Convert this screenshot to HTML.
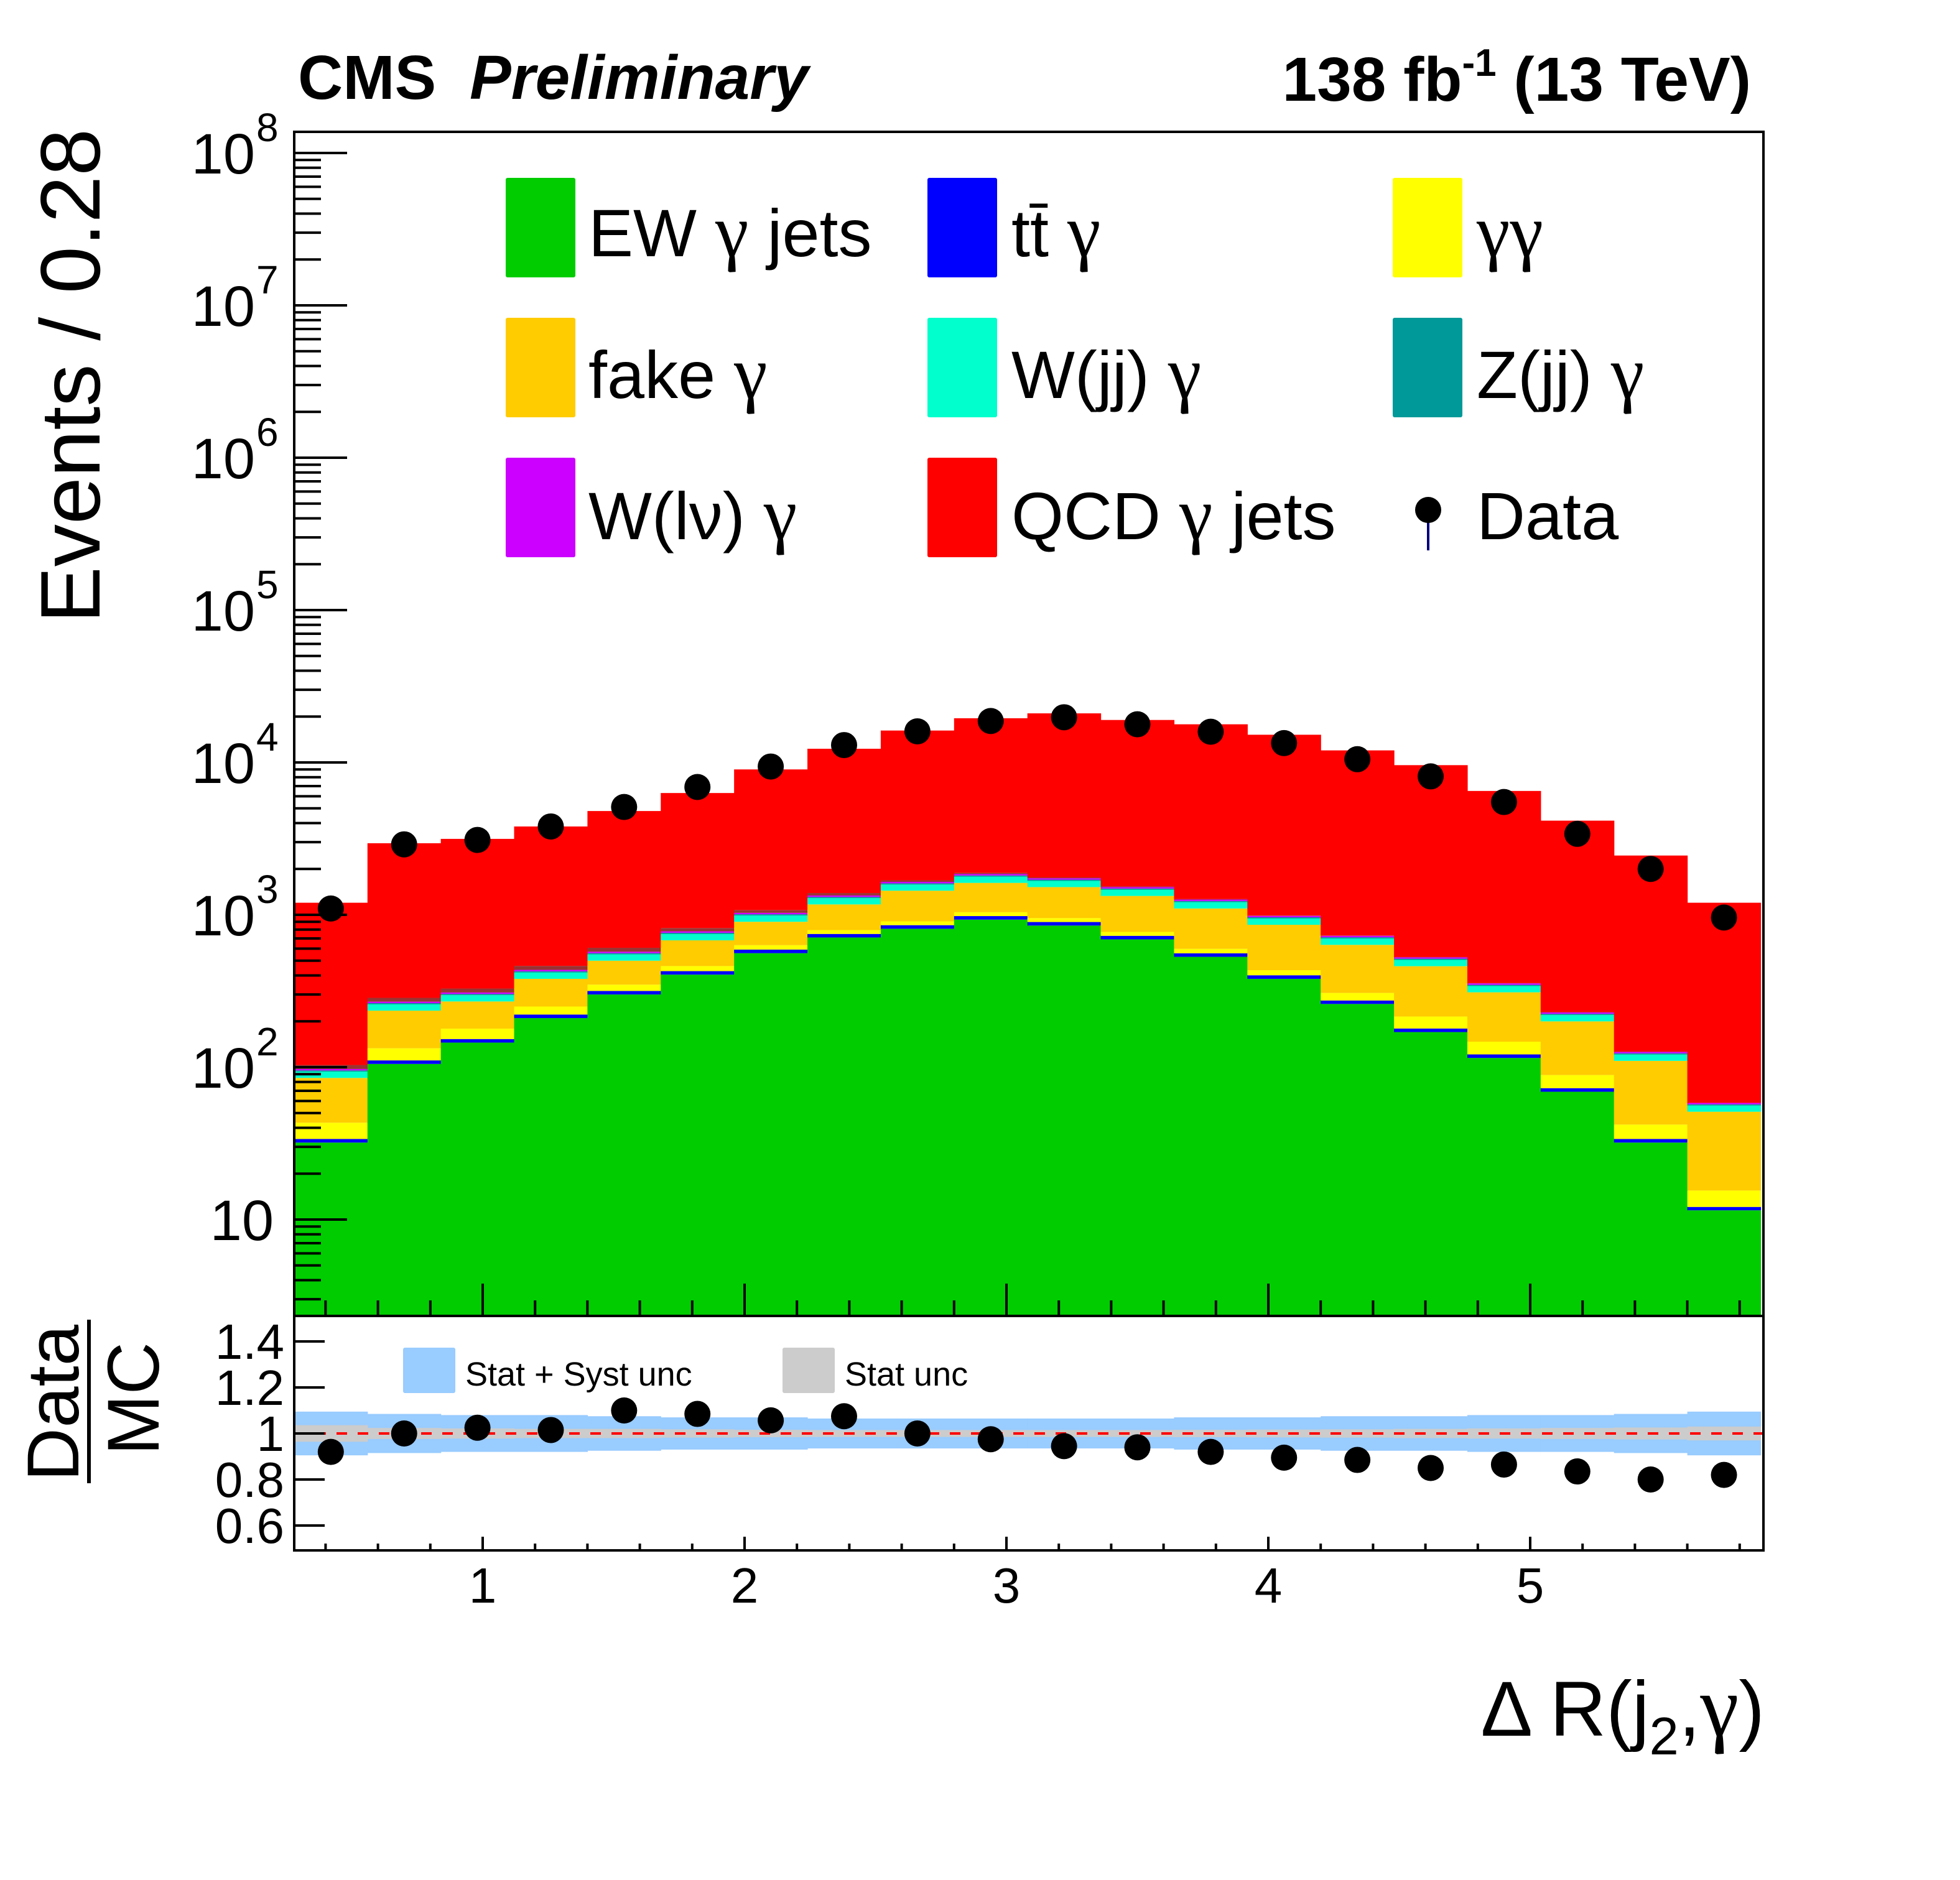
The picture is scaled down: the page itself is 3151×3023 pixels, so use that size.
<!DOCTYPE html>
<html><head><meta charset="utf-8"><style>
html,body{margin:0;padding:0;background:#fff;}
svg{display:block;font-family:"Liberation Sans",sans-serif;}
.g{font-family:"Liberation Serif",serif;font-size:1.12em;}
</style></head><body>
<svg id="chart" xmlns="http://www.w3.org/2000/svg" width="3151" height="3023" viewBox="0 0 3151 3023">
<defs>
<clipPath id="upclip"><rect x="473" y="212" width="2362" height="1904"/></clipPath>
<clipPath id="loclip"><rect x="473" y="2116" width="2362" height="377"/></clipPath>
</defs>
<rect width="3151" height="3023" fill="#fff"/>
<g id="upper" clip-path="url(#upclip)"></g>
<g id="lower" clip-path="url(#loclip)"></g>
<g id="axes"></g>
<text x="479" y="159" font-size="100" font-weight="bold">CMS</text>
<text x="755" y="159" font-size="100" font-weight="bold" font-style="italic">Preliminary</text>
<text x="2815" y="162" font-size="100" font-weight="bold" text-anchor="end">138 fb<tspan dy="-40" font-size="62">-1</tspan><tspan dy="40"> (13 TeV)</tspan></text>
<text transform="translate(160,1002) rotate(-90)" font-size="136" textLength="795" lengthAdjust="spacingAndGlyphs">Events / 0.28</text>
<text transform="translate(126,2382) rotate(-90)" font-size="118" textLength="252" lengthAdjust="spacingAndGlyphs">Data</text>
<line x1="143" y1="2122" x2="143" y2="2385" stroke="#000" stroke-width="6"/>
<text transform="translate(255,2340) rotate(-90)" font-size="118" textLength="182" lengthAdjust="spacingAndGlyphs">MC</text>
<text x="2837" y="2791" font-size="125" text-anchor="end">Δ R(j<tspan dy="30" font-size="85">2</tspan><tspan dy="-30">,</tspan><tspan class="g">γ</tspan>)</text>
<g id="legend"></g>
</svg>
<script>
// ---- data ----
const binEdgesStart = 0.28;
const binWidth = 0.28;
const ewGammaJets = [32,105,145,210,300,405,560,710,810,930,850,690,530,380,260,170,115,69,32,11.5];
const ttGamma = [1.8,5.8,8,11.6,16.5,22,31,39,45,51,47,38,29,21,14,9.4,6.3,3.8,1.8,0.6];
const diphoton = [9.4,22.2,26,28.4,31.5,34,41,45,51,59,54,44,39,32,33,35.6,25.7,16,8.2,3.4];
const fakeGamma = [41.8,102,91,130,152,219,268,376,534,580,569,558,502,427,328,245,163,111,68,35.5];
const wjjGamma = [8.5,23.5,27,38,50,68,90,117,140,160,150,130,110,86,64,46,31,20,11,5];
const zjjGamma = [1.7,4.7,5.4,7.6,10,14,18,23,29,32,30,27,22,17,13,9,6,4,2.2,1];
const wlnuGamma = [2.1,5.9,6.8,9.5,12.5,17,22,29,36,40,38,33,27,21,16,11,8,5,2.8,1.3];
const otherBkg = [6,16,19,27,35,40,45,50,40,30,20,15,10,5,3,2,1,1,0.5,0];
const qcdGammaJets = [1097,2665,2822,3338,4192,5481,7925,10911,14515,17618,19242,17465,16531,14211,11269,9072,6144,3920,2323,1142];
const dataCounts = [1100,2900,3100,3800,5100,6900,9400,13000,16000,18700,19800,17800,15900,13400,10500,8100,5500,3400,2000,960];
const ratioValues = [0.92,1.0,1.025,1.015,1.10,1.085,1.057,1.075,1.0,0.975,0.945,0.94,0.92,0.895,0.885,0.85,0.865,0.835,0.80,0.82];
const systUnc = [0.095,0.085,0.08,0.08,0.075,0.07,0.07,0.065,0.065,0.065,0.065,0.065,0.07,0.07,0.075,0.075,0.08,0.08,0.085,0.095];
const statUnc = [0.036,0.024,0.022,0.02,0.02,0.018,0.016,0.015,0.015,0.015,0.015,0.015,0.016,0.017,0.018,0.02,0.022,0.024,0.026,0.03];
const xTickLabels = ["1","2","3","4","5"];
const ratioTickLabels = ["0.6","0.8","1","1.2","1.4"];

// ---- axes ----
const X0=473,X1=2835,YT=212,YB=2116,RB=2493;
function xpx(v){return 776+(v-1)*421;}
function ypx(v){ if(v<=0) return YB+10; return 246+(8-Math.log10(v))*245;}
function rpx(v){return 2305-(v-1)*370;}
const NS="http://www.w3.org/2000/svg";
function mk(tag,attrs,parent){const e=document.createElementNS(NS,tag);for(const k in attrs)e.setAttribute(k,attrs[k]);parent.appendChild(e);return e;}
const upper=document.getElementById('upper'),lower=document.getElementById('lower'),axes=document.getElementById('axes'),legend=document.getElementById('legend');

const layers=[
 {arr:ewGammaJets,c:"#00cc00",n:"ew-gamma-jets"},
 {arr:ttGamma,c:"#0000ff",n:"tt-gamma"},
 {arr:diphoton,c:"#ffff00",n:"diphoton"},
 {arr:fakeGamma,c:"#ffcc00",n:"fake-gamma"},
 {arr:wjjGamma,c:"#00ffcc",n:"wjj-gamma"},
 {arr:zjjGamma,c:"#009999",n:"zjj-gamma"},
 {arr:wlnuGamma,c:"#cc00ff",n:"wlnu-gamma"},
 {arr:otherBkg,c:"#993333",n:"other-bkg"},
 {arr:qcdGammaJets,c:"#ff0000",n:"qcd-gamma-jets"}
];
const nb=ewGammaJets.length;
for(let i=0;i<nb;i++){
  let cum=0;
  const xa=xpx(binEdgesStart+i*binWidth), xb=xpx(binEdgesStart+(i+1)*binWidth);
  layers.forEach(L=>{
    const lo=cum; cum+=L.arr[i];
    const y1=ypx(cum), y0=ypx(lo);
    const r=mk('rect',{x:xa,y:y1,width:xb-xa+0.6,height:Math.max(0,y0-y1),fill:L.c},upper);
    
    
  });
}
for(let i=0;i<nb;i++){
  const cx=xpx(binEdgesStart+(i+0.5)*binWidth);
  const c=mk('circle',{cx:cx,cy:ypx(dataCounts[i]),r:21,fill:"#000"},upper);
  
  
}
for(let i=0;i<nb;i++){
  const xa=xpx(binEdgesStart+i*binWidth), xb=xpx(binEdgesStart+(i+1)*binWidth);
  const b=mk('rect',{x:xa,y:rpx(1+systUnc[i]),width:xb-xa+0.6,height:rpx(1-systUnc[i])-rpx(1+systUnc[i]),fill:"#99ccff"},lower);
  
  
}
for(let i=0;i<nb;i++){
  const xa=xpx(binEdgesStart+i*binWidth), xb=xpx(binEdgesStart+(i+1)*binWidth);
  const b=mk('rect',{x:xa,y:rpx(1+statUnc[i]),width:xb-xa+0.6,height:rpx(1-statUnc[i])-rpx(1+statUnc[i]),fill:"#cccccc"},lower);
  
  
}
const ul=mk('line',{x1:X0,x2:X1,y1:rpx(1),y2:rpx(1),stroke:"#ff0000","stroke-width":4,"stroke-dasharray":"17 17"},lower);


for(let i=0;i<nb;i++){
  const cx=xpx(binEdgesStart+(i+0.5)*binWidth);
  const c=mk('circle',{cx:cx,cy:rpx(ratioValues[i]),r:21,fill:"#000"},lower);
  
  
}
const f1=mk('rect',{x:X0,y:YT,width:X1-X0,height:YB-YT,fill:"none",stroke:"#000","stroke-width":4},axes);


const f2=mk('rect',{x:X0,y:YB,width:X1-X0,height:RB-YB,fill:"none",stroke:"#000","stroke-width":4},axes);


for(let d=0;d<=8;d++){
  for(let m=1;m<=9;m++){
    const v=m*Math.pow(10,d); const y=ypx(v);
    if(y<YT||y>YB) continue;
    mk('line',{x1:X0,x2:X0+(m==1?85:43),y1:y,y2:y,stroke:"#000","stroke-width":4},axes);
  }
}
for(let d=1;d<=8;d++){
  const y=ypx(Math.pow(10,d));
  let t;
  if(d==1){ t=mk('text',{x:440,y:y+33,"font-size":92,"text-anchor":"end"},axes); t.textContent="10"; }
  else { t=mk('text',{x:410,y:y+33,"font-size":92,"text-anchor":"end"},axes); t.textContent="10";
    const s=mk('tspan',{x:412,dy:-52,"font-size":64,"text-anchor":"start"},t); s.textContent=String(d); }
  
  
}
for(let k=2;k<=29;k++){
  const v=k*0.2; const x=xpx(v); if(x<X0||x>X1) continue;
  const major=(k%5==0);
  mk('line',{x1:x,x2:x,y1:YB,y2:YB-(major?52:25),stroke:"#000","stroke-width":4},axes);
  mk('line',{x1:x,x2:x,y1:RB,y2:RB-(major?22:11),stroke:"#000","stroke-width":4},axes);
}
xTickLabels.forEach((lab,i)=>{
  const t=mk('text',{x:xpx(i+1),y:2577,"font-size":80,"text-anchor":"middle"},axes);
  t.textContent=lab;
  
  
});
ratioTickLabels.forEach(lab=>{
  const v=parseFloat(lab), y=rpx(v);
  mk('line',{x1:X0,x2:X0+49,y1:y,y2:y,stroke:"#000","stroke-width":4},axes);
  const t=mk('text',{x:457,y:y+28,"font-size":80,"text-anchor":"end"},axes);
  t.textContent=lab;
  
  
});
const legItems=[
 {c:"#00cc00",a:"EW ",g:"γ",b:" jets",col:0,row:0,n:"ew-gamma-jets"},
 {c:"#0000ff",a:"tt̄ ",g:"γ",b:"",col:1,row:0,n:"tt-gamma"},
 {c:"#ffff00",a:"",g:"γγ",b:"",col:2,row:0,n:"diphoton"},
 {c:"#ffcc00",a:"fake ",g:"γ",b:"",col:0,row:1,n:"fake-gamma"},
 {c:"#00ffcc",a:"W(jj) ",g:"γ",b:"",col:1,row:1,n:"wjj-gamma"},
 {c:"#009999",a:"Z(jj) ",g:"γ",b:"",col:2,row:1,n:"zjj-gamma"},
 {c:"#cc00ff",a:"W(lν) ",g:"γ",b:"",col:0,row:2,n:"wlnu-gamma"},
 {c:"#ff0000",a:"QCD ",g:"γ",b:" jets",col:1,row:2,n:"qcd-gamma-jets"}
];
const colBox=[813,1491,2239], colText=[946,1626,2374], rowTop=[286,511,736], rowBase=[412,640,867];
legItems.forEach(it=>{
  const r=mk('rect',{x:colBox[it.col],y:rowTop[it.row],width:112,height:160,fill:it.c,rx:3},legend);
  
  
  const t=mk('text',{x:colText[it.col],y:rowBase[it.row],"font-size":108},legend);
  if(it.a){const s=mk('tspan',{},t); s.textContent=it.a;}
  const g=mk('tspan',{"class":"g"},t); g.textContent=it.g;
  if(it.b){const s=mk('tspan',{},t); s.textContent=it.b;}
  
  
});
const dl=mk('line',{x1:2296,x2:2296,y1:805,y2:885,stroke:"#000080","stroke-width":4},legend);


const dc=mk('circle',{cx:2296,cy:820,r:21,fill:"#000"},legend);


const dt=mk('text',{x:2374,y:867,"font-size":108},legend);
dt.textContent="Data";


const r1=mk('rect',{x:648,y:2167,width:84,height:73,fill:"#99ccff",rx:3},legend);


const t1=mk('text',{x:748,y:2228,"font-size":54},legend);
t1.textContent="Stat + Syst unc";


const r2=mk('rect',{x:1258,y:2167,width:84,height:73,fill:"#cccccc",rx:3},legend);


const t2=mk('text',{x:1358,y:2228,"font-size":54},legend);
t2.textContent="Stat unc";


</script>
</body></html>
